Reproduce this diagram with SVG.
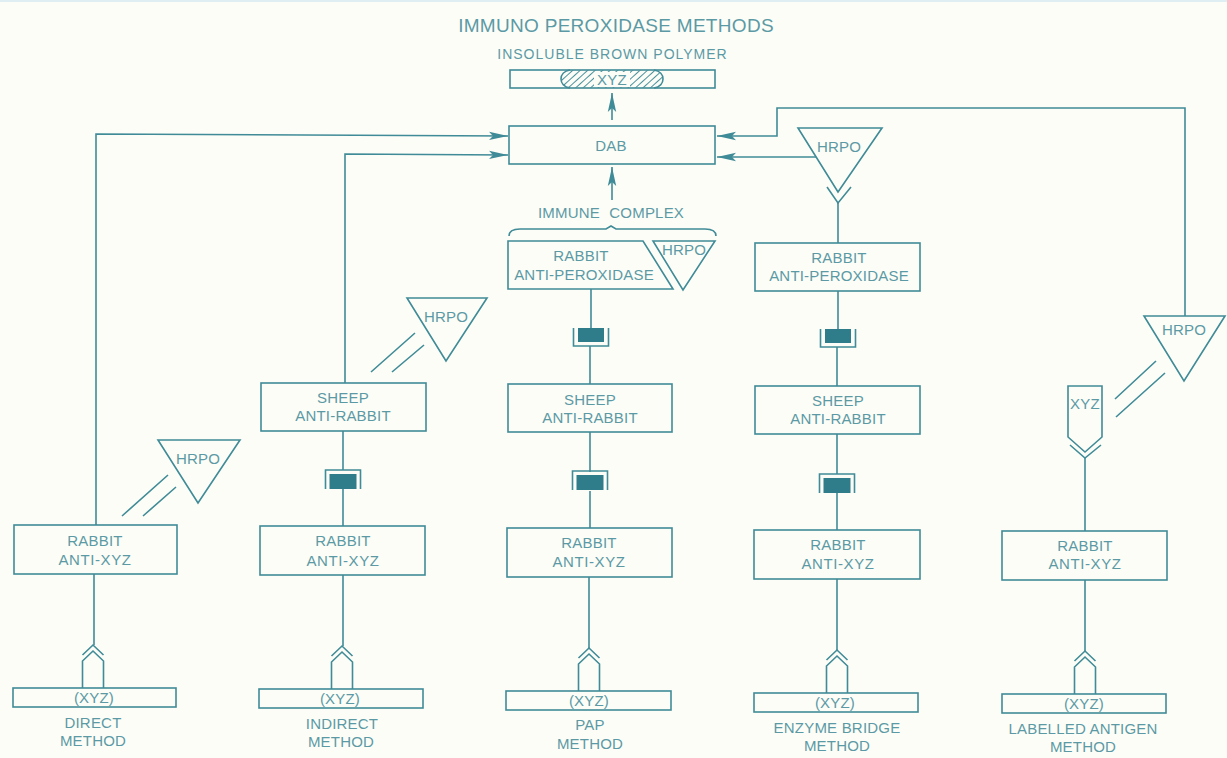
<svg xmlns="http://www.w3.org/2000/svg" width="1227" height="758" viewBox="0 0 1227 758">
<style>
.b{fill:none;stroke:#3f8b97;stroke-width:1.6}
.l{fill:none;stroke:#3f8b97;stroke-width:1.6}
.d{fill:#2f7c8b;stroke:none}
text{font-family:"Liberation Sans",Arial,sans-serif;fill:#5b9aa5;font-size:15px;text-anchor:middle;letter-spacing:.2px}
</style>
<defs>
<marker id="a" markerUnits="userSpaceOnUse" markerWidth="22" markerHeight="12" refX="19" refY="5" orient="auto"><path d="M0 0.8 L19 5 L0 9.2 L4 5Z" fill="#3f8b97"/></marker>
<pattern id="h" width="5" height="5" patternUnits="userSpaceOnUse" patternTransform="rotate(-42)"><rect width="5" height="1" fill="#4a919c"/></pattern>
<g id="ag"><path class="l" d="M-10.500 37V10L0 0 10.500 10V37"/><path class="l" d="M-10.500 4L0 -6 10.500 4"/></g>
<g id="cupU"><path class="l" d="M-17.500 0V18H17.500V0"/><rect class="d" x="-13" y="0" width="26" height="14"/></g>
<g id="cupD"><path class="l" d="M-17.500 19V0H17.500V19"/><rect class="d" x="-13.500" y="4" width="27" height="15"/></g>
</defs>
<rect width="1227" height="758" fill="#fdfdf7"/>
<rect width="1227" height="2" fill="#dfeef2"/>
<text x="616" y="32" style="font-size:19px;letter-spacing:.3px">IMMUNO PEROXIDASE METHODS</text>
<text x="612.500" y="59" style="font-size:14px;letter-spacing:1px">INSOLUBLE BROWN POLYMER</text>
<text x="611" y="218" style="word-spacing:5px">IMMUNE COMPLEX</text>

<g id="connectors">
<path class="l" marker-end="url(#a)" d="M96 525V134L508 136"/>
<path class="l" marker-end="url(#a)" d="M345 383V154L508 155"/>
<path class="l" marker-end="url(#a)" d="M1185 316V108H777V136H717"/>
<path class="l" marker-end="url(#a)" d="M816 157H717"/>
<path class="l" marker-end="url(#a)" d="M612 120V93"/>
<path class="l" marker-end="url(#a)" d="M612 200V167"/>
<path class="l" d="M94 574V645M343 575V646M589 577V648M837 579V650M1085 580V651M343 431V470M343 489V526M590 432V472M590 491V528M837 434V474M837 493V530M591 289V328M590 346V384M838 291V329M837 347V386M838 203V243M1085 458V531"/>
<path class="l" d="M122 516L168 475M143 516L176 487M371 372L415 333M392 372L424 345M1115 399L1156 361M1116 417L1165 373"/>
<path class="l" d="M509 236Q509 229 520 229H606L611 226 616 229H705Q716 229 716 236"/>
<path class="l" d="M827 187L838 203 851 187M1070 445L1085 458 1101 445"/>
</g>

<g id="polymer"><rect class="b" x="510" y="70" width="205" height="18"/><path d="M570 70H654C666 72 666 86 654 88H570C558 86 558 72 570 70Z" fill="url(#h)"/><path class="l" d="M570 70C558 72 558 86 570 88M654 70C666 72 666 86 654 88"/><rect x="594" y="72" width="36" height="15" fill="#fdfdf7"/><text x="612" y="85">XYZ</text></g>
<g id="dab"><rect class="b" x="509" y="126" width="206" height="38"/><text x="611" y="151">DAB</text></g>

<g id="direct-hrpo"><path class="b" d="M158 440H240L198 503Z"/><text x="198" y="464">HRPO</text></g>
<g id="direct-rabbit"><rect class="b" x="14" y="525" width="163" height="49"/><text x="95" y="546">RABBIT</text><text x="95" y="565" style="letter-spacing:.6px">ANTI-XYZ</text></g>
<g id="direct-antigen"><use href="#ag" x="93" y="651"/><rect class="b" x="13" y="688" width="163" height="19"/><text x="94" y="703">(XYZ)</text></g>
<g id="direct-label"><text x="93" y="728">DIRECT</text><text x="93" y="746">METHOD</text></g>

<g id="indirect-hrpo"><path class="b" d="M407 298H487L446 361Z"/><text x="446" y="322">HRPO</text></g>
<g id="indirect-sheep"><rect class="b" x="261" y="383" width="165" height="48"/><text x="343" y="403">SHEEP</text><text x="343" y="421">ANTI-RABBIT</text></g>
<g id="indirect-link"><use href="#cupD" x="343" y="470"/></g>
<g id="indirect-rabbit"><rect class="b" x="260" y="526" width="165" height="49"/><text x="343" y="546">RABBIT</text><text x="343" y="566" style="letter-spacing:.6px">ANTI-XYZ</text></g>
<g id="indirect-antigen"><use href="#ag" x="342" y="652"/><rect class="b" x="259" y="689" width="164" height="19"/><text x="340" y="704">(XYZ)</text></g>
<g id="indirect-label"><text x="342" y="729">INDIRECT</text><text x="341" y="747">METHOD</text></g>

<g id="pap-peroxidase"><path class="b" d="M508 241H643L673 289H508Z"/><text x="581" y="261">RABBIT</text><text x="584" y="280">ANTI-PEROXIDASE</text></g>
<g id="pap-hrpo"><path class="b" d="M653 241H715L683 290Z"/><text x="684" y="255">HRPO</text></g>
<g id="pap-link1"><use href="#cupU" x="591" y="328"/></g>
<g id="pap-sheep"><rect class="b" x="508" y="384" width="164" height="48"/><text x="590" y="405">SHEEP</text><text x="590" y="423">ANTI-RABBIT</text></g>
<g id="pap-link2"><use href="#cupD" x="590" y="471"/></g>
<g id="pap-rabbit"><rect class="b" x="507" y="528" width="165" height="49"/><text x="589" y="548">RABBIT</text><text x="589" y="567" style="letter-spacing:.6px">ANTI-XYZ</text></g>
<g id="pap-antigen"><use href="#ag" x="589" y="654"/><rect class="b" x="506" y="691" width="165" height="19"/><text x="589" y="706">(XYZ)</text></g>
<g id="pap-label"><text x="590" y="730">PAP</text><text x="590" y="749">METHOD</text></g>

<g id="eb-hrpo"><path class="b" d="M798 128H882L838 192Z"/><text x="839" y="152">HRPO</text></g>
<g id="eb-peroxidase"><rect class="b" x="755" y="243" width="165" height="48"/><text x="839" y="263">RABBIT</text><text x="839" y="281">ANTI-PEROXIDASE</text></g>
<g id="eb-link1"><use href="#cupU" x="838" y="329"/></g>
<g id="eb-sheep"><rect class="b" x="755" y="386" width="165" height="48"/><text x="838" y="406">SHEEP</text><text x="838" y="424">ANTI-RABBIT</text></g>
<g id="eb-link2"><use href="#cupD" x="837" y="474"/></g>
<g id="eb-rabbit"><rect class="b" x="754" y="530" width="166" height="49"/><text x="838" y="550">RABBIT</text><text x="838" y="569" style="letter-spacing:.6px">ANTI-XYZ</text></g>
<g id="eb-antigen"><use href="#ag" x="837" y="656"/><rect class="b" x="754" y="693" width="164" height="19"/><text x="835" y="708">(XYZ)</text></g>
<g id="eb-label"><text x="837" y="733">ENZYME BRIDGE</text><text x="837" y="751">METHOD</text></g>

<g id="la-hrpo"><path class="b" d="M1144 316H1225L1184 381Z"/><text x="1184" y="335">HRPO</text></g>
<g id="la-xyz"><path class="b" d="M1068 386H1102V437L1085 452 1068 437Z"/><text x="1085" y="409">XYZ</text></g>
<g id="la-rabbit"><rect class="b" x="1002" y="531" width="165" height="49"/><text x="1085" y="551">RABBIT</text><text x="1085" y="569" style="letter-spacing:.6px">ANTI-XYZ</text></g>
<g id="la-antigen"><use href="#ag" x="1085" y="657"/><rect class="b" x="1002" y="694" width="164" height="19"/><text x="1084" y="709">(XYZ)</text></g>
<g id="la-label"><text x="1083" y="734">LABELLED ANTIGEN</text><text x="1083" y="752">METHOD</text></g>
</svg>
